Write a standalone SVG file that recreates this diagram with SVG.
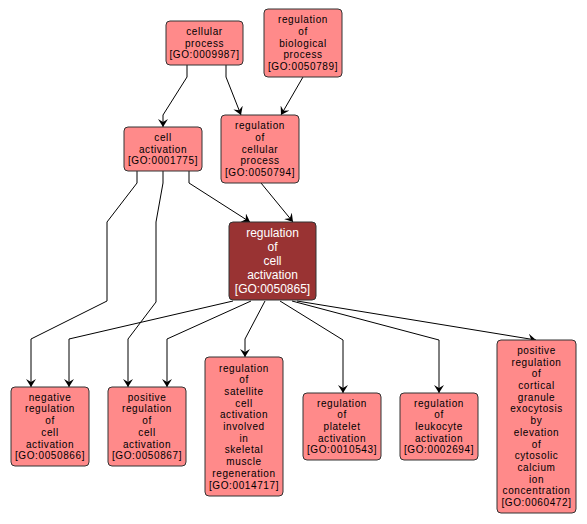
<svg xmlns="http://www.w3.org/2000/svg" width="587" height="524" viewBox="0 0 587 524">
<style>
.n rect{fill:#ff8a8a;stroke:#333;stroke-width:1}
.n text{font-family:"Liberation Sans",Arial,sans-serif;font-size:10px;letter-spacing:0.6px;fill:#000;text-anchor:middle}
.d rect{fill:#993333;stroke:#333;stroke-width:1}
.d text{font-family:"Liberation Sans",Arial,sans-serif;font-size:12px;fill:#fff;text-anchor:middle}
.e path{fill:none;stroke:#000;stroke-width:1;marker-end:url(#ah)}
</style>
<defs>
<marker id="ah" markerUnits="userSpaceOnUse" markerWidth="9" markerHeight="10" refX="8" refY="5" orient="auto">
<path d="M0,0 L8,5 L0,10 L3,5 z" fill="#000"/>
</marker>
</defs>
<rect width="587" height="524" fill="#fff"/>
<g class="e" id="edges">
<path d="M187,65 L187,77 L163,115 L163,127"/>
<path d="M226,65 L226,77 L241,115"/>
<path d="M303,77 L281,115"/>
<path d="M189,171 L189,183 L250,222"/>
<path d="M261,183 L293,222"/>
<path d="M137,171 L137,183 L107,222 L107,301 L31,339 L31,387"/>
<path d="M163,171 L163,183 L156,222 L156,302 L128,339 L128,387"/>
<path d="M233,301 L69,339 L69,387"/>
<path d="M251,301 L167,339 L167,387"/>
<path d="M265,301 L245,339 L245,357"/>
<path d="M280,301 L343,340 L343,393"/>
<path d="M292,301 L439,340 L439,393"/>
<path d="M297,301 L536,340"/>
</g>
<g class="n" id="GO0009987">
<rect x="166" y="21" width="77" height="44" rx="4"/>
<text x="204.5" y="34.8"><tspan x="204.5">cellular</tspan><tspan x="204.5" dy="11.7">process</tspan><tspan x="204.5" dy="11.7">[GO:0009987]</tspan></text>
</g>
<g class="n" id="GO0050789">
<rect x="264" y="9" width="78" height="68" rx="4"/>
<text x="303" y="23.1"><tspan x="303">regulation</tspan><tspan x="303" dy="11.7">of</tspan><tspan x="303" dy="11.7">biological</tspan><tspan x="303" dy="11.7">process</tspan><tspan x="303" dy="11.7">[GO:0050789]</tspan></text>
</g>
<g class="n" id="GO0001775">
<rect x="124" y="127" width="78" height="44" rx="4"/>
<text x="163" y="140.8"><tspan x="163">cell</tspan><tspan x="163" dy="11.7">activation</tspan><tspan x="163" dy="11.7">[GO:0001775]</tspan></text>
</g>
<g class="n" id="GO0050794">
<rect x="221" y="115" width="78" height="68" rx="4"/>
<text x="260" y="129.1"><tspan x="260">regulation</tspan><tspan x="260" dy="11.7">of</tspan><tspan x="260" dy="11.7">cellular</tspan><tspan x="260" dy="11.7">process</tspan><tspan x="260" dy="11.7">[GO:0050794]</tspan></text>
</g>
<g class="d" id="GO0050865">
<rect x="229" y="222" width="87" height="78" rx="4"/>
<text x="272.5" y="237.3"><tspan x="272.5">regulation</tspan><tspan x="272.5" dy="14">of</tspan><tspan x="272.5" dy="14">cell</tspan><tspan x="272.5" dy="14">activation</tspan><tspan x="272.5" dy="14">[GO:0050865]</tspan></text>
</g>
<g class="n" id="GO0050866">
<rect x="11" y="387" width="78" height="79" rx="4"/>
<text x="50" y="400.75"><tspan x="50">negative</tspan><tspan x="50" dy="11.7">regulation</tspan><tspan x="50" dy="11.7">of</tspan><tspan x="50" dy="11.7">cell</tspan><tspan x="50" dy="11.7">activation</tspan><tspan x="50" dy="11.7">[GO:0050866]</tspan></text>
</g>
<g class="n" id="GO0050867">
<rect x="108" y="387" width="78" height="79" rx="4"/>
<text x="147" y="400.75"><tspan x="147">positive</tspan><tspan x="147" dy="11.7">regulation</tspan><tspan x="147" dy="11.7">of</tspan><tspan x="147" dy="11.7">cell</tspan><tspan x="147" dy="11.7">activation</tspan><tspan x="147" dy="11.7">[GO:0050867]</tspan></text>
</g>
<g class="n" id="GO0014717">
<rect x="205" y="357" width="78" height="139" rx="4"/>
<text x="244" y="371.5"><tspan x="244">regulation</tspan><tspan x="244" dy="11.7">of</tspan><tspan x="244" dy="11.7">satellite</tspan><tspan x="244" dy="11.7">cell</tspan><tspan x="244" dy="11.7">activation</tspan><tspan x="244" dy="11.7">involved</tspan><tspan x="244" dy="11.7">in</tspan><tspan x="244" dy="11.7">skeletal</tspan><tspan x="244" dy="11.7">muscle</tspan><tspan x="244" dy="11.7">regeneration</tspan><tspan x="244" dy="11.7">[GO:0014717]</tspan></text>
</g>
<g class="n" id="GO0010543">
<rect x="303" y="393" width="78" height="67" rx="4"/>
<text x="342" y="406.6"><tspan x="342">regulation</tspan><tspan x="342" dy="11.7">of</tspan><tspan x="342" dy="11.7">platelet</tspan><tspan x="342" dy="11.7">activation</tspan><tspan x="342" dy="11.7">[GO:0010543]</tspan></text>
</g>
<g class="n" id="GO0002694">
<rect x="400" y="393" width="78" height="67" rx="4"/>
<text x="439" y="406.6"><tspan x="439">regulation</tspan><tspan x="439" dy="11.7">of</tspan><tspan x="439" dy="11.7">leukocyte</tspan><tspan x="439" dy="11.7">activation</tspan><tspan x="439" dy="11.7">[GO:0002694]</tspan></text>
</g>
<g class="n" id="GO0060472">
<rect x="497" y="340" width="79" height="173" rx="4"/>
<text x="536.5" y="353.95"><tspan x="536.5">positive</tspan><tspan x="536.5" dy="11.7">regulation</tspan><tspan x="536.5" dy="11.7">of</tspan><tspan x="536.5" dy="11.7">cortical</tspan><tspan x="536.5" dy="11.7">granule</tspan><tspan x="536.5" dy="11.7">exocytosis</tspan><tspan x="536.5" dy="11.7">by</tspan><tspan x="536.5" dy="11.7">elevation</tspan><tspan x="536.5" dy="11.7">of</tspan><tspan x="536.5" dy="11.7">cytosolic</tspan><tspan x="536.5" dy="11.7">calcium</tspan><tspan x="536.5" dy="11.7">ion</tspan><tspan x="536.5" dy="11.7">concentration</tspan><tspan x="536.5" dy="11.7">[GO:0060472]</tspan></text>
</g>
</svg>
